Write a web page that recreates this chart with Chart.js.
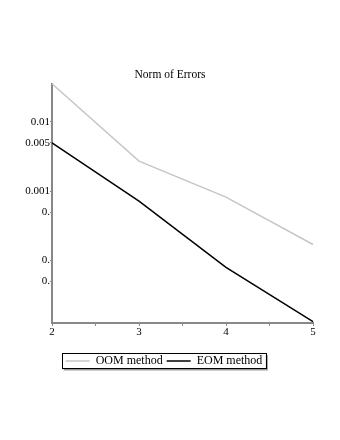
<!DOCTYPE html>
<html>
<head>
<meta charset="utf-8">
<script src="https://cdn.jsdelivr.net/npm/chart.js@4/dist/chart.umd.min.js"></script>
<style>
html,body{margin:0;padding:0;background:#fff;}
#wrap{width:340px;height:440px;}
</style>
</head>
<body>
<div id="wrap"><canvas id="c" width="340" height="440"></canvas></div>
<script>
const categories = [2, 3, 4, 5];
const oomValues = [0.0355, 0.00272, 0.00082, 0.00017];
const eomValues = [0.005, 0.000716, 0.0000794, 0.0000131];
const yTickValues = [0.01, 0.005, 0.001, 0.0005, 0.0001, 0.00005];
const yTickLabels = ['0.01', '0.005', '0.001', '0.', '0.', '0.'];
const xTickValues = [2, 2.5, 3, 3.5, 4, 4.5, 5];
const xTickLabels = ['2', '', '3', '', '4', '', '5'];
const seriesNames = ['OOM method', 'EOM method'];
const titleText = 'Norm of Errors';

const FONT = "'Liberation Serif', 'Times New Roman', serif";

const legendBox = {
  id: 'legendBox',
  afterLayout(chart) {
    const lg = chart.legend;
    if (!lg) return;
    const dx = -6;
    lg.left += dx; lg.right += dx;
    (lg.legendHitBoxes || []).forEach(h => { h.left += dx; });
  },
  afterDraw(chart) {
    const hb = chart.legend && chart.legend.legendHitBoxes;
    if (!hb || !hb.length) return;
    let l = Infinity, r = -Infinity, t = Infinity, b = -Infinity;
    hb.forEach(h => { l = Math.min(l, h.left); r = Math.max(r, h.left + h.width); t = Math.min(t, h.top); b = Math.max(b, h.top + h.height); });
    l -= 4; r += 3; t -= 2; b += 1;
    const ctx = chart.ctx;
    ctx.save();
    ctx.strokeStyle = '#999';
    ctx.lineWidth = 2;
    ctx.beginPath();
    ctx.moveTo(l + 2, b + 1.5); ctx.lineTo(r + 1.5, b + 1.5); ctx.lineTo(r + 1.5, t + 2);
    ctx.stroke();
    ctx.strokeStyle = '#000';
    ctx.lineWidth = 1;
    ctx.strokeRect(Math.round(l) + 0.5, Math.round(t) + 0.5, Math.round(r - l), Math.round(b - t));
    ctx.restore();
  }
};

new Chart(document.getElementById('c'), {
  type: 'line',
  data: {
    datasets: [
      {
        label: seriesNames[0],
        data: categories.map((x, i) => ({ x: x, y: oomValues[i] })),
        borderColor: '#c6c6c6',
        borderWidth: 1.5,
        pointRadius: 0,
        pointStyle: 'line',
        tension: 0,
        clip: 4
      },
      {
        label: seriesNames[1],
        data: categories.map((x, i) => ({ x: x, y: eomValues[i] })),
        borderColor: '#000000',
        borderWidth: 1.5,
        pointRadius: 0,
        pointStyle: 'line',
        tension: 0,
        clip: 4
      }
    ]
  },
  options: {
    responsive: false,
    animation: false,
    layout: { padding: { top: 62, left: 0, right: 0, bottom: 63 } },
    plugins: {
      title: {
        display: true,
        text: titleText,
        color: '#000',
        font: { family: FONT, size: 11.5, weight: 'normal' },
        padding: { top: 6, bottom: 2 }
      },
      legend: {
        display: true,
        position: 'bottom',
        labels: {
          color: '#000',
          font: { family: FONT, size: 12 },
          usePointStyle: true,
          pointStyleWidth: 24,
          boxWidth: 24,
          padding: 4
        }
      },
      tooltip: { enabled: false }
    },
    scales: {
      x: {
        type: 'linear',
        min: 2,
        max: 5,
        afterBuildTicks(scale) { scale.ticks = xTickValues.map(v => ({ value: v })); },
        afterFit(scale) { scale.height = 28; },
        ticks: {
          color: '#000',
          font: { family: FONT, size: 11 },
          padding: 0,
          maxRotation: 0,
          autoSkip: false,
          callback(v, i) { return xTickLabels[i]; }
        },
        grid: { drawOnChartArea: false, drawTicks: true, tickLength: 3, color: '#888' },
        border: { color: '#888', width: 2 }
      },
      y: {
        type: 'logarithmic',
        min: 0.0000125,
        max: 0.0355,
        afterBuildTicks(scale) { scale.ticks = yTickValues.map(v => ({ value: v })); },
        afterFit(scale) { scale.width = 52; },
        ticks: {
          color: '#000',
          font: { family: FONT, size: 11 },
          padding: 0,
          autoSkip: false,
          callback(v, i) { return yTickLabels[i]; }
        },
        grid: { drawOnChartArea: false, drawTicks: true, tickLength: 2, color: '#888' },
        border: { color: '#888', width: 2 }
      },
      spacer: {
        type: 'linear',
        position: 'right',
        display: true,
        afterFit(scale) { scale.width = 27; },
        ticks: { display: false },
        grid: { display: false, drawTicks: false },
        border: { display: false }
      }
    }
  },
  plugins: [legendBox]
});
</script>
</body>
</html>
